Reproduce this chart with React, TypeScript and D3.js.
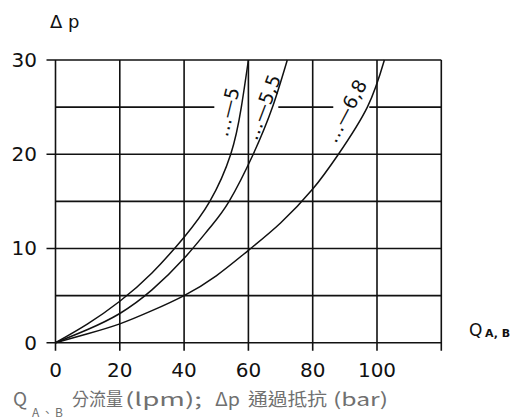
import * as d3 from "d3";

// Δp (bar) vs Q (lpm) for three spool variants
const qMinus5 = [0, 10, 20, 30, 40, 48, 54.5, 57.8, 60];
const dpMinus5 = [0, 2.0, 4.4, 7.4, 11.2, 15, 20, 25, 30];

const qMinus55 = [0, 10, 20, 30, 40, 48, 54, 61.5, 67.5, 72.1];
const dpMinus55 = [0, 1.4, 3.1, 5.6, 8.95, 12.2, 15, 20, 25, 30];

const qMinus68 = [0, 10, 20, 30, 40, 50, 60, 70, 80, 88, 97, 102.3];
const dpMinus68 = [0, 0.95, 2, 3.4, 5, 7.1, 9.8, 12.7, 16.3, 20, 25, 30];

const curveLabels = ["…—5", "…—5,5", "…—6,8"];
const labelQ = [53.3, 64.4, 90.2];
const labelDp = [24.5, 25, 24.6];
const labelAngle = [-76, -69, -62];

const xTicks = [0, 20, 40, 60, 80, 100];
const xGrid = [0, 20, 40, 60, 80, 100, 120];
const yTicks = [0, 10, 20, 30];
const yGrid = [0, 5, 10, 15, 20, 25, 30];
// the 25-bar line is interrupted where the labels sit
const grid25Segments = [
  [0, 49.4],
  [69.3, 86.4],
  [97.6, 120],
];

// caption pieces: text, left x, width
const caption = [
  { t: "分流量", x: 72, w: 51 },
  { t: "(lpm);", x: 125, w: 77 },
  { t: "Δp", x: 215, w: 25 },
  { t: "通過抵抗", x: 248, w: 79 },
  { t: "(bar)", x: 333, w: 55 },
];

const W = 519;
const H = 419;
const ink = "#111";
const font = "DejaVu Sans, sans-serif";

export default function App() {
  const x = d3.scaleLinear().domain([0, 120]).range([55.5, 441.3]);
  const y = d3.scaleLinear().domain([0, 30]).range([342.7, 60]);

  const line = d3
    .line<[number, number]>()
    .x((d) => x(d[0]))
    .y((d) => y(d[1]))
    .curve(d3.curveNatural);

  const series = [
    d3.zip(qMinus5, dpMinus5) as [number, number][],
    d3.zip(qMinus55, dpMinus55) as [number, number][],
    d3.zip(qMinus68, dpMinus68) as [number, number][],
  ];

  return (
    <svg
      width={W}
      height={H}
      style={{ position: "absolute", left: 0, top: 0, background: "#fff" }}
    >
      {/* vertical grid + ticks below axis */}
      {xGrid.map((q) => (
        <line
          key={"vx" + q}
          x1={x(q)}
          x2={x(q)}
          y1={y(30)}
          y2={y(0) + 8}
          stroke={ink}
          strokeWidth={1.6}
        />
      ))}
      {/* horizontal grid */}
      {yGrid
        .filter((v) => v !== 25)
        .map((v) => (
          <line
            key={"hy" + v}
            x1={yTicks.includes(v) ? x(0) - 9 : x(0)}
            x2={x(120)}
            y1={y(v)}
            y2={y(v)}
            stroke={ink}
            strokeWidth={1.6}
          />
        ))}
      {grid25Segments.map(([a, b], i) => (
        <line
          key={"g25" + i}
          x1={x(a)}
          x2={x(b)}
          y1={y(25)}
          y2={y(25)}
          stroke={ink}
          strokeWidth={1.6}
        />
      ))}

      {series.map((s, i) => (
        <path key={"c" + i} d={line(s) ?? ""} fill="none" stroke={ink} strokeWidth={1.5} />
      ))}

      {curveLabels.map((t, i) => (
        <text
          key={"l" + i}
          transform={`translate(${x(labelQ[i])},${y(labelDp[i])}) rotate(${labelAngle[i]})`}
          textAnchor="middle"
          dominantBaseline="central"
          fontFamily={font}
          fontSize={19}
          fill={ink}
        >
          {t}
        </text>
      ))}

      {yTicks.map((v) => (
        <text
          key={"yt" + v}
          x={37}
          y={y(v)}
          textAnchor="end"
          dominantBaseline="central"
          fontFamily={font}
          fontSize={20}
          fill={ink}
        >
          {v}
        </text>
      ))}
      {xTicks.map((q) => (
        <text
          key={"xt" + q}
          x={x(q)}
          y={377}
          textAnchor="middle"
          fontFamily={font}
          fontSize={20}
          fill={ink}
        >
          {q}
        </text>
      ))}

      <text x={50} y={28} fontFamily={font} fontSize={18} fill={ink}>
        Δ p
      </text>

      <text x={469} y={336} fontFamily={font} fontSize={17} fill={ink}>
        Q
      </text>
      <text x={485} y={337} fontFamily={font} fontSize={11} fontWeight="bold" fill={ink}>
        A, B
      </text>

      <g fill="#707070" fontFamily="'Noto Sans CJK TC', 'Noto Sans', sans-serif">
        <text x={13} y={406} fontSize={19}>
          Q
        </text>
        <text x={32} y={417} fontSize={12} textLength={31}>
          A、B
        </text>
        {caption.map((c) => (
          <text key={c.t} x={c.x} y={406} fontSize={18} textLength={c.w} lengthAdjust="spacingAndGlyphs">
            {c.t}
          </text>
        ))}
      </g>
    </svg>
  );
}
